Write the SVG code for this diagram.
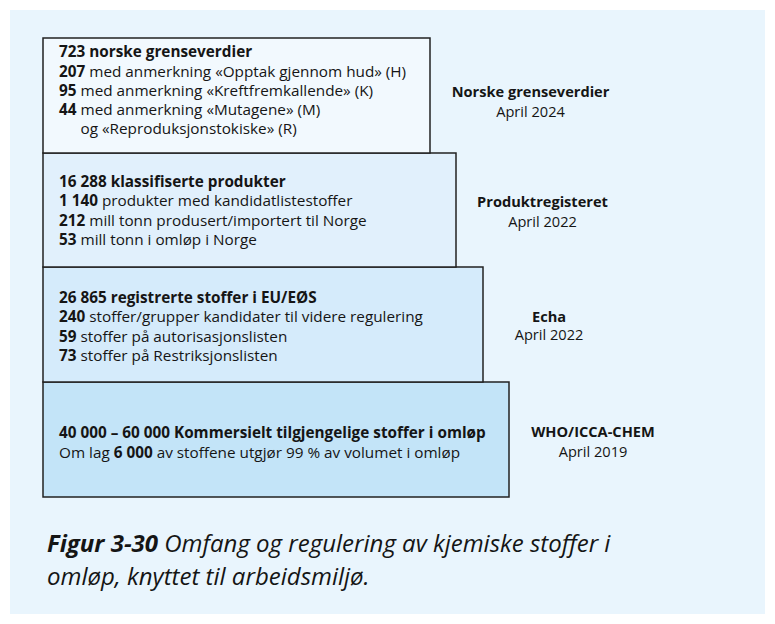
<svg xmlns="http://www.w3.org/2000/svg" width="775" height="624" viewBox="0 0 775 624">
<style>
text{font-family:"Open Sans","Noto Sans","Liberation Sans",sans-serif;fill:#151515;font-size:15.3px}
.b{font-weight:700}
.box{stroke:#222;stroke-width:1.5}
.lab{text-anchor:middle;font-size:14.6px}
.cap{font-size:24px;font-style:italic}
</style>
<rect width="775" height="624" fill="#ffffff"/>
<rect x="10" y="10" width="755" height="604" fill="#e9f5fd"/>
<g id="box4">
<rect class="box" x="43" y="382" width="466" height="115" fill="#c3e4f8"/>
<text x="59" y="438" class="b">40 000 – 60 000 Kommersielt tilgjengelige stoffer i omløp</text>
<text x="59" y="458">Om lag <tspan class="b">6 000</tspan> av stoffene utgjør 99 % av volumet i omløp</text>
</g>
<g id="box3">
<rect class="box" x="43" y="267" width="440" height="115" fill="#d5ebfb"/>
<text x="59" y="302.5" class="b">26 865 registrerte stoffer i EU/EØS</text>
<text x="59" y="322"><tspan class="b">240</tspan> stoffer/grupper kandidater til videre regulering</text>
<text x="59" y="341.5"><tspan class="b">59</tspan> stoffer på autorisasjonslisten</text>
<text x="59" y="361"><tspan class="b">73</tspan> stoffer på Restriksjonslisten</text>
</g>
<g id="box2">
<rect class="box" x="43" y="153" width="413" height="114" fill="#e1f0fc"/>
<text x="59" y="186.5" class="b">16 288 klassifiserte produkter</text>
<text x="59" y="206"><tspan class="b">1 140</tspan> produkter med kandidatlistestoffer</text>
<text x="59" y="225.5"><tspan class="b">212</tspan> mill tonn produsert/importert til Norge</text>
<text x="59" y="245"><tspan class="b">53</tspan> mill tonn i omløp i Norge</text>
</g>
<g id="box1">
<rect class="box" x="43" y="38" width="387" height="115" fill="#f2f9fe"/>
<text x="59" y="57" class="b">723 norske grenseverdier</text>
<text x="59" y="76.5"><tspan class="b">207</tspan> med anmerkning «Opptak gjennom hud» (H)</text>
<text x="59" y="95.5"><tspan class="b">95</tspan> med anmerkning «Kreftfremkallende» (K)</text>
<text x="59" y="115"><tspan class="b">44</tspan> med anmerkning «Mutagene» (M)</text>
<text x="80.5" y="134">og «Reproduksjonstokiske» (R)</text>
</g>
<g id="label1">
<text x="530.5" y="96.5" class="lab b">Norske grenseverdier</text>
<text x="530.5" y="116.5" class="lab">April 2024</text>
</g>
<g id="label2">
<text x="542.5" y="207" class="lab b">Produktregisteret</text>
<text x="542.5" y="226.5" class="lab">April 2022</text>
</g>
<g id="label3">
<text x="549" y="321.5" class="lab b">Echa</text>
<text x="549" y="340" class="lab">April 2022</text>
</g>
<g id="label4">
<text x="593" y="437" class="lab b">WHO/ICCA-CHEM</text>
<text x="593" y="456.5" class="lab">April 2019</text>
</g>
<g id="connectors"></g>
<g id="caption">
<text x="47" y="552" class="cap"><tspan class="b">Figur 3-30</tspan> Omfang og regulering av kjemiske stoffer i</text>
<text x="47" y="585" class="cap">omløp, knyttet til arbeidsmiljø.</text>
</g>
</svg>
